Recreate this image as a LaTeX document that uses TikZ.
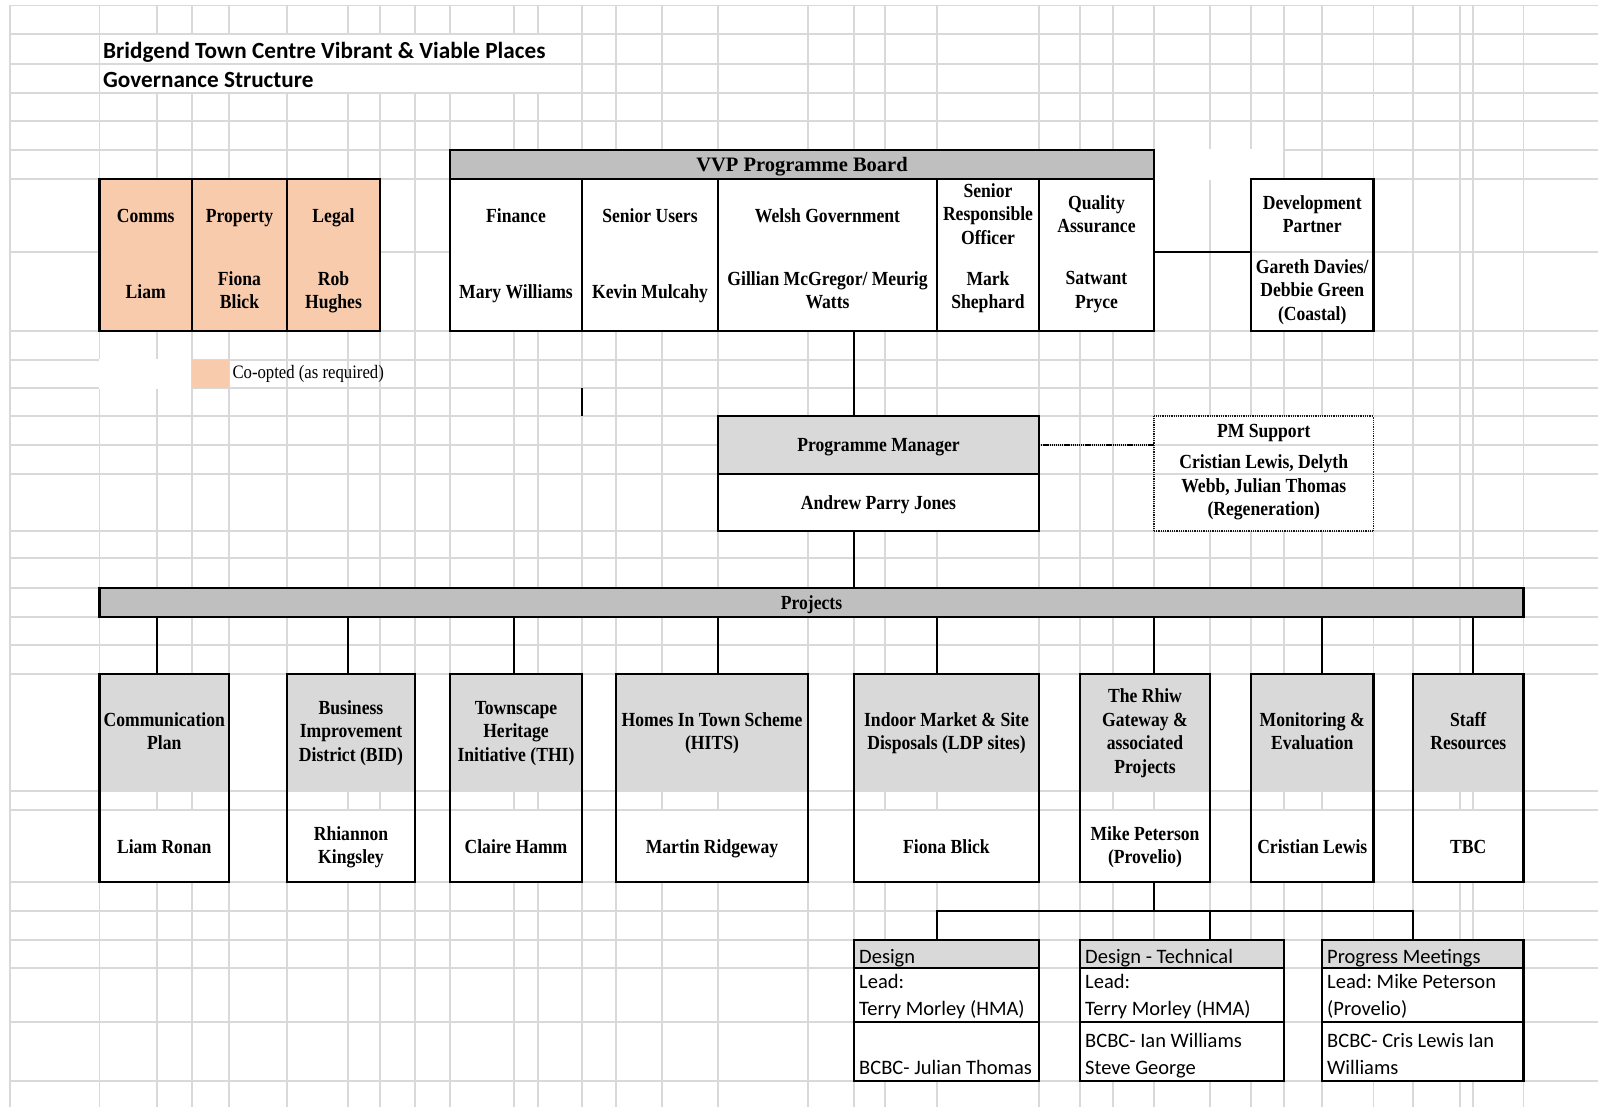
\documentclass[tikz,border=0pt]{standalone}
\usepackage{fontspec}
\setmainfont{Liberation Serif}
\newfontfamily\tnrc[FakeStretch=0.88]{Liberation Serif}
\newfontfamily\calf{Carlito}
\usetikzlibrary{fit}
\frenchspacing
\definecolor{gridc}{RGB}{217,217,217}
\definecolor{hdrdark}{RGB}{191,191,191}
\definecolor{hdrlight}{RGB}{217,217,217}
\definecolor{peach}{RGB}{248,203,173}
\newcommand\projbox[6]{%
  \node[fillar,fill=hdrlight,fit={(#2,674)(#3,791)}] (#1top) {};
  \node[fillar,fill=white,fit={(#2,811)(#3,882)}] (#1bot) {};
  \node[boxfr,fit={(#2,674)(#3,882)}] (#1) {};
  \node[btxt] (#1lab) at (#1top.center) {#5};
  \node[btxt] (#1who) at (#1bot.center) {#6};
  \coordinate (#1x) at (#4,0);
  \draw[lnk] (projects.south -| #1x) -- (#1.north -| #1x);
}
\begin{document}
\begin{tikzpicture}[x=1pt,y=-1pt,
  gridln/.style={draw=gridc,line width=1.6pt},
  boxfr/.style={draw=black,line width=2.7pt,inner sep=0pt,outer sep=0pt},
  subfr/.style={draw=black,line width=2.5pt,inner sep=0pt,outer sep=0pt},
  fillar/.style={inner sep=0pt,outer sep=0pt},
  lnk/.style={draw=black,line width=2.7pt},
  lnkthin/.style={draw=black,line width=2.3pt},
  dotlnk/.style={draw=black,line width=2pt,dash pattern=on 1.3pt off 0.8pt},
  dotfr/.style={draw=black!90,line width=1.3pt,dash pattern=on 1pt off 0.8pt,inner sep=0pt,outer sep=0pt},
  btxt/.style={font=\tnrc\bfseries\fontsize{20}{23.5}\selectfont,align=center,inner sep=0pt,yshift=-2pt,execute at begin node=\strut,execute at end node=\strut},
  hdtxt/.style={font=\rmfamily\bfseries\fontsize{20.5}{24}\selectfont,align=center,inner sep=0pt,yshift=-2pt,execute at begin node=\strut},
  ctxt/.style={font=\calf\fontsize{20.5}{27}\selectfont,anchor=base west,inner sep=0pt},
  tttxt/.style={font=\calf\bfseries\fontsize{23.2}{27}\selectfont,anchor=base west,inner sep=0pt}
]
\useasboundingbox (0,0) rectangle (1598,1107);
\fill[white] (0,0) rectangle (1598,1107);
% spreadsheet grid
\foreach \xx in {10,99.5,157,192,229,287,348,380,415,450,514,538,582,616,662,718,808,854,885,937,1039,1080,1113,1154,1210,1251,1284,1322,1373.5,1413,1460,1473,1523.5}
  \draw[gridln] (\xx,5.5) -- (\xx,1107);
\foreach \yy in {5.5,34,64,93,121,150,179,252,331,360,388,416,445,474,531,558,588,617,645,674,791,810,882,911,940,968,1022,1081}
  \draw[gridln] (10,\yy) -- (1598,\yy);
% areas where the grid is hidden
\fill[white] (100.4,34.9) rectangle (581.1,63.1);
\fill[white] (100.4,64.9) rectangle (581.1,92.1);
\fill[white] (98.6,359.1) rectangle (191.4,388.9);
\fill[white] (1155,149) rectangle (1283,180);

% title
\node[tttxt] (title1) at (103,58.3) {Bridgend Town Centre Vibrant \& Viable Places};
\node[tttxt] (title2) at (103,87.3) {Governance Structure};

% co-opted boxes
\node[boxfr,fill=peach,fit={(99.5,179)(192,331)}] (comms) {};
\node[boxfr,fill=peach,fit={(192,179)(287,331)}] (property) {};
\node[boxfr,fill=peach,fit={(287,179)(380,331)}] (legal) {};
\node[btxt] (commsT) at (145.75,215.5) {Comms};
\node[btxt] (commsN) at (145.75,291.5) {Liam};
\node[btxt] (propT) at (239.5,215.5) {Property};
\node[btxt] (propN) at (239.5,291.5) {Fiona\\Blick};
\node[btxt] (legalT) at (333.5,215.5) {Legal};
\node[btxt] (legalN) at (333.5,291.5) {Rob\\Hughes};

% legend
\node[fillar,fill=peach,fit={(192,359.5)(229,388)}] (legendsq) {};
\node[font=\tnrc\fontsize{19}{22}\selectfont,anchor=base west,inner sep=0pt] (legendtx) at (232.3,378.3) {Co-opted (as required)};

% programme board
\node[boxfr,fill=hdrdark,fit={(450,150)(1154,179)}] (boardhead) {};
\node[boxfr,fill=white,fit={(450,179)(1154,331)}] (board) {};
\node[boxfr,fit={(450,179)(582,331)}] (finance) {};
\node[boxfr,fit={(582,179)(718,331)}] (seniorusers) {};
\node[boxfr,fit={(718,179)(937,331)}] (welshgov) {};
\node[boxfr,fit={(937,179)(1039,331)}] (sro) {};
\node[boxfr,fit={(1039,179)(1154,331)}] (qa) {};
\node[hdtxt] (boardT) at (boardhead.center) {VVP Programme Board};
\node[btxt] (finT) at (516,215.5) {Finance};
\node[btxt] (finN) at (516,291.5) {Mary Williams};
\node[btxt] (suT) at (650,215.5) {Senior Users};
\node[btxt] (suN) at (650,291.5) {Kevin Mulcahy};
\node[btxt] (wgT) at (827.5,215.5) {Welsh Government};
\node[btxt] (wgN) at (827.5,291.5) {Gillian McGregor/ Meurig\\Watts};
\node[btxt] (sroT) at (988,215.5) {Senior\\Responsible\\Officer};
\node[btxt] (sroN) at (988,291.5) {Mark\\Shephard};
\node[btxt] (qaT) at (1096.5,215.5) {Quality\\Assurance};
\node[btxt] (qaN) at (1096.5,291.5) {Satwant\\Pryce};

% development partner
\node[boxfr,fill=white,fit={(1251,179)(1373.5,331)}] (devp) {};
\draw[gridln] (1252.4,252) -- (1372.1,252);
\node[btxt] (devT) at (1312.25,215.5) {Development\\Partner};
\node[btxt] (devN) at (1312.25,291.5) {Gareth Davies/\\Debbie Green\\(Coastal)};
\coordinate (ydev) at (0,252);
\draw[lnk] (qa.east |- ydev) -- (devp.west |- ydev);

% stray border segment
\coordinate (strayTop) at (582,388);
\coordinate (strayBot) at (582,416);
\draw[lnk] (strayTop) -- (strayBot);

% programme manager
\node[boxfr,fill=hdrlight,fit={(718,416)(1039,474)}] (pmhead) {};
\node[boxfr,fill=white,fit={(718,474)(1039,531)}] (pm) {};
\node[btxt] (pmT) at (pmhead.center) {Programme Manager};
\node[btxt] (pmN) at (pm.center) {Andrew Parry Jones};
\coordinate (xpm) at (854,0);
\draw[lnk] (board.south -| xpm) -- (pmhead.north -| xpm);

% PM support
\node[dotfr,fill=white,fit={(1154,416)(1373.5,531)}] (pms) {};
\draw[gridln] (1155,445) -- (1372.7,445);
\draw[gridln] (1155,474) -- (1372.7,474);
\node[btxt] (pmsT) at (1263.75,430.5) {PM Support};
\node[btxt] (pmsN) at (1263.75,487) {Cristian Lewis, Delyth\\Webb, Julian Thomas\\(Regeneration)};
\draw[dotlnk] (pmhead.east) -- (pmhead.east -| pms.west);

% projects bar
\node[boxfr,fill=hdrdark,fit={(99.5,588)(1523.5,617)}] (projects) {};
\node[btxt] (projT) at (projects.center) {Projects};
\draw[lnk] (pm.south -| xpm) -- (projects.north -| xpm);

% project boxes
\projbox{pa}{99.5}{229}{157}{Communication\\Plan}{Liam Ronan}
\projbox{pb}{287}{415}{348}{Business\\Improvement\\District (BID)}{Rhiannon\\Kingsley}
\projbox{pc}{450}{582}{514}{Townscape\\Heritage\\Initiative (THI)}{Claire Hamm}
\projbox{pd}{616}{808}{718}{Homes In Town Scheme\\(HITS)}{Martin Ridgeway}
\projbox{pe}{854}{1039}{937}{Indoor Market \& Site\\Disposals (LDP sites)}{Fiona Blick}
\projbox{pf}{1080}{1210}{1154}{The Rhiw\\Gateway \&\\associated\\Projects}{Mike Peterson\\(Provelio)}
\projbox{pg}{1251}{1373.5}{1322}{Monitoring \&\\Evaluation}{Cristian Lewis}
\projbox{ph}{1413}{1523.5}{1473}{Staff\\Resources}{TBC}

% sub boxes
\node[subfr,fill=white,fit={(854,940)(1039,1081)}] (design) {};
\node[subfr,fill=hdrlight,fit={(854,940)(1039,968)}] (designhd) {};
\node[subfr,fit={(854,1022)(1039,1081)}] (designlow) {};
\node[subfr,fill=white,fit={(1080,940)(1284,1081)}] (tech) {};
\node[subfr,fill=hdrlight,fit={(1080,940)(1284,968)}] (techhd) {};
\node[subfr,fit={(1080,1022)(1284,1081)}] (techlow) {};
\node[subfr,fill=white,fit={(1322,940)(1523.5,1081)}] (prog) {};
\node[subfr,fill=hdrlight,fit={(1322,940)(1523.5,968)}] (proghd) {};
\node[subfr,fit={(1322,1022)(1523.5,1081)}] (proglow) {};

\node[ctxt] (dA) at (859,963) {Design};
\node[ctxt] (dB) at (859,988) {Lead:};
\node[ctxt] (dC) at (859,1015) {Terry Morley (HMA)};
\node[ctxt] (dD) at (859,1074) {BCBC- Julian Thomas};
\node[ctxt] (tA) at (1085,963) {Design - Technical};
\node[ctxt] (tB) at (1085,988) {Lead:};
\node[ctxt] (tC) at (1085,1015) {Terry Morley (HMA)};
\node[ctxt] (tD) at (1085,1047) {BCBC- Ian Williams};
\node[ctxt] (tE) at (1085,1074) {Steve George};
\node[ctxt] (gA) at (1327,963) {Progress Meetings};
\node[ctxt] (gB) at (1327,988) {Lead: Mike Peterson};
\node[ctxt] (gC) at (1327,1015) {(Provelio)};
\node[ctxt] (gD) at (1327,1047) {BCBC- Cris Lewis Ian};
\node[ctxt] (gE) at (1327,1074) {Williams};

\coordinate (split) at (1154,911);
\coordinate (xd) at (937,0);
\coordinate (xt) at (1210,0);
\coordinate (xp) at (1413,0);
\draw[lnkthin] (pf.south -| split) -- (split);
\draw[lnkthin] (designhd.north -| xd) -- (split -| xd) -- (split -| xp) -- (proghd.north -| xp);
\draw[lnkthin] (split -| xt) -- (techhd.north -| xt);
\end{tikzpicture}
\end{document}
